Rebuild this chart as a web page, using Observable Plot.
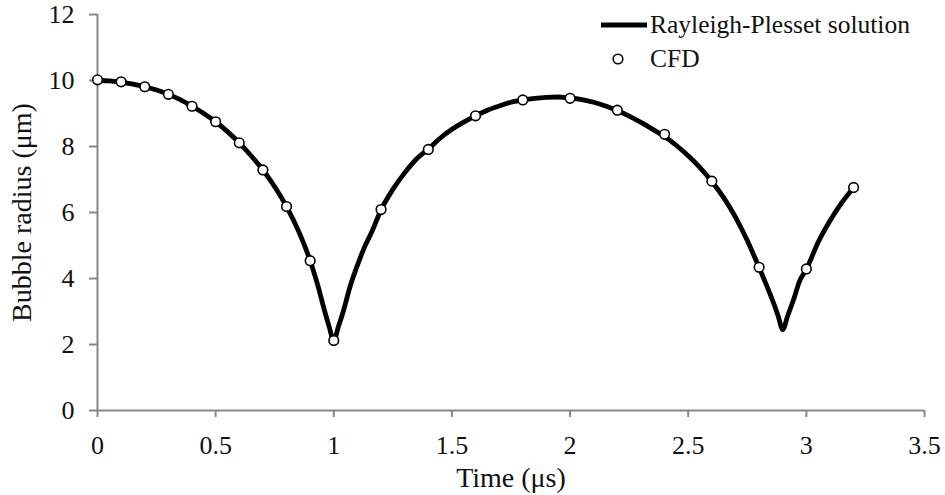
<!DOCTYPE html>
<html>
<head>
<meta charset="utf-8">
<script src="https://cdn.jsdelivr.net/npm/d3@7"></script>
<script src="https://cdn.jsdelivr.net/npm/@observablehq/plot@0.6"></script>
<style>
  html, body { margin: 0; padding: 0; background: #fff; }
  #wrap { position: relative; width: 945px; height: 495px; font-family: "Liberation Serif", "Times New Roman", serif; }
  #wrap g[aria-label="x-axis tick label"], #wrap g[aria-label="y-axis tick label"],
  #wrap g[aria-label="x-axis tick label"] text, #wrap g[aria-label="y-axis tick label"] text { font-size: 26px !important; font-variant: normal !important; }
  #wrap g[aria-label="x-axis label"], #wrap g[aria-label="y-axis label"],
  #wrap g[aria-label="x-axis label"] text, #wrap g[aria-label="y-axis label"] text { font-size: 28px !important; }
  #legend { position: absolute; left: 600px; top: 8px; font-family: "Liberation Serif", "Times New Roman", serif; font-size: 25.5px; color: #111; }
  #legend .row { display: flex; align-items: center; height: 34px; }
  #legend svg { width: 48px; height: 34px; display: block; }
  #legend span { margin-left: 2px; }
</style>
</head>
<body>
<div id="wrap"></div>
<script>
// Rayleigh-Plesset solution (time in µs, radius in µm)
const rpTime = [0, 0.05, 0.1, 0.15, 0.2, 0.25, 0.3, 0.35, 0.4, 0.45, 0.5, 0.55, 0.6, 0.65, 0.7, 0.75, 0.8, 0.85, 0.9, 0.93, 0.96, 0.98, 1.0,
  1.02, 1.04, 1.07, 1.1, 1.13, 1.16, 1.2, 1.25, 1.3, 1.35, 1.4, 1.45, 1.5, 1.55, 1.6, 1.65, 1.7, 1.75, 1.8, 1.85, 1.9, 1.95, 2.0,
  2.05, 2.1, 2.15, 2.2, 2.25, 2.3, 2.35, 2.4, 2.45, 2.5, 2.55, 2.6, 2.65, 2.7, 2.75, 2.8, 2.83, 2.86, 2.88, 2.9,
  2.92, 2.95, 2.97, 3.0, 3.05, 3.1, 3.15, 3.2];
const rpRadius = [10.0, 9.99, 9.95, 9.89, 9.81, 9.71, 9.58, 9.42, 9.22, 9.0, 8.75, 8.45, 8.11, 7.72, 7.29, 6.78, 6.18, 5.45, 4.54, 3.85, 3.05, 2.55, 2.12,
  2.55, 3.0, 3.78, 4.4, 4.95, 5.4, 6.08, 6.7, 7.2, 7.62, 7.92, 8.25, 8.52, 8.74, 8.93, 9.1, 9.23, 9.34, 9.41, 9.46, 9.49, 9.5, 9.47,
  9.42, 9.34, 9.23, 9.09, 8.92, 8.73, 8.52, 8.3, 8.03, 7.72, 7.36, 6.94, 6.45, 5.86, 5.15, 4.33, 3.82, 3.28, 2.88, 2.45,
  2.85, 3.45, 3.9, 4.28, 5.1, 5.75, 6.3, 6.75];

// CFD points
const cfdTime = [0, 0.1, 0.2, 0.3, 0.4, 0.5, 0.6, 0.7, 0.8, 0.9, 1.0, 1.2, 1.4, 1.6, 1.8, 2.0, 2.2, 2.4, 2.6, 2.8, 3.0, 3.2];
const cfdRadius = [10.02, 9.96, 9.81, 9.58, 9.22, 8.75, 8.11, 7.29, 6.18, 4.54, 2.12, 6.09, 7.91, 8.93, 9.41, 9.46, 9.1, 8.37, 6.95, 4.34, 4.29, 6.76];

const xTicks = [0, 0.5, 1, 1.5, 2, 2.5, 3, 3.5];
const yTicks = [0, 2, 4, 6, 8, 10, 12];

const rp = rpTime.map((t, i) => ({t, r: rpRadius[i]}));
const cfd = cfdTime.map((t, i) => ({t, r: cfdRadius[i]}));

const axisGray = "#878787";
const font = "Liberation Serif, Times New Roman, serif";
const fmt = d => String(d);

const chart = Plot.plot({
  width: 945,
  height: 495,
  marginLeft: 97,
  marginRight: 21,
  marginTop: 14,
  marginBottom: 85,
  style: {fontFamily: font, color: "#111", background: "white", overflow: "visible"},
  x: {domain: [0, 3.5]},
  y: {domain: [0, 12]},
  marks: [
    Plot.axisX({ticks: xTicks, tickFormat: fmt, tickSize: 7, tickPadding: 18, stroke: axisGray, strokeWidth: 2, fill: "#111", fontSize: 26,
      label: "Time (μs)", labelAnchor: "center", labelArrow: "none", labelOffset: 76}),
    Plot.axisY({ticks: yTicks, tickFormat: fmt, tickSize: 8, tickPadding: 15, stroke: axisGray, strokeWidth: 2, fill: "#111", fontSize: 26,
      label: "Bubble radius (μm)", labelAnchor: "center", labelArrow: "none", labelOffset: 86}),
    Plot.ruleY([0], {stroke: axisGray, strokeWidth: 2}),
    Plot.ruleX([0], {stroke: axisGray, strokeWidth: 2}),
    Plot.line(rp, {x: "t", y: "r", stroke: "black", strokeWidth: 4.8, curve: "monotone-x"}),
    Plot.dot(cfd, {x: "t", y: "r", r: 4.8, fill: "white", stroke: "black", strokeWidth: 1.6})
  ]
});

const wrap = document.getElementById("wrap");
wrap.appendChild(chart);

const legend = document.createElement("div");
legend.id = "legend";
legend.innerHTML = `
  <div class="row"><svg viewBox="0 0 48 34"><line x1="1" y1="17" x2="47" y2="17" stroke="black" stroke-width="4.8"/></svg><span>Rayleigh-Plesset solution</span></div>
  <div class="row"><svg viewBox="0 0 48 34"><circle cx="18" cy="17" r="4.8" fill="white" stroke="black" stroke-width="1.6"/></svg><span>CFD</span></div>`;
wrap.appendChild(legend);
</script>
</body>
</html>
